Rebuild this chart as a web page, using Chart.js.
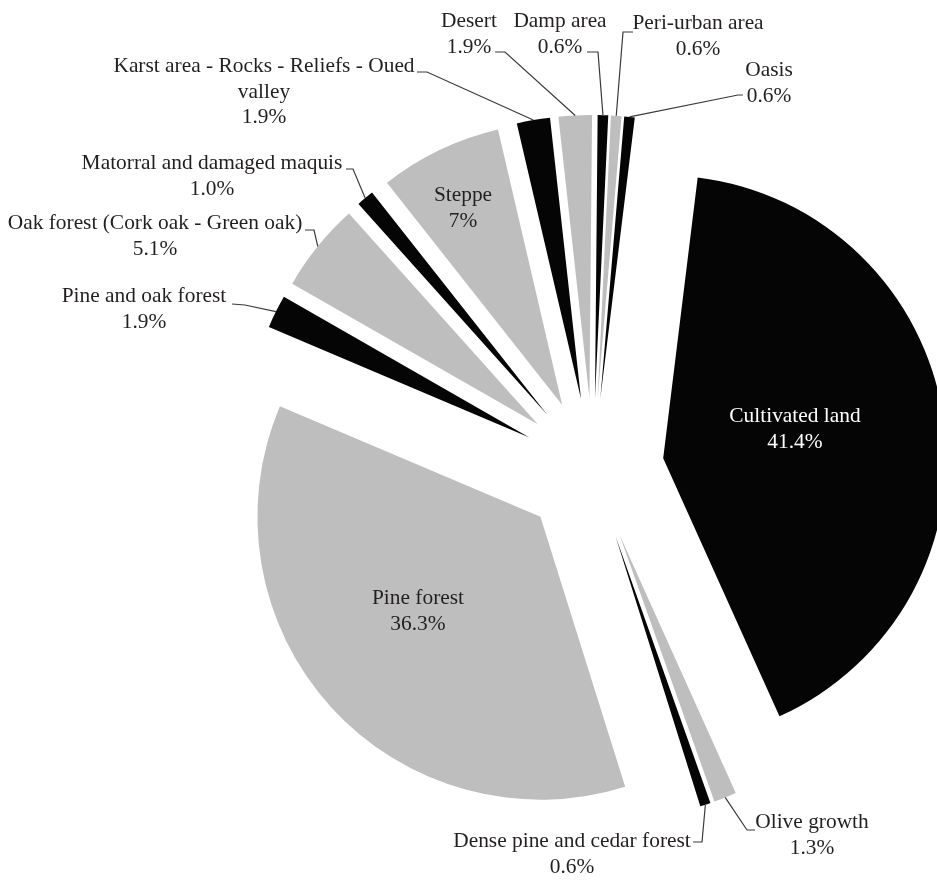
<!DOCTYPE html>
<html>
<head>
<meta charset="utf-8">
<script src="https://cdn.jsdelivr.net/npm/chart.js@4.4.0/dist/chart.umd.min.js"></script>
<style>
  body { margin: 0; background: #fff; }
</style>
</head>
<body>
<canvas id="usoSuelo" width="937" height="880"></canvas>
<script>
// Categorias en el orden del pastel (sentido horario)
var categorias = [
  ["Cultivated land"],
  ["Olive growth"],
  ["Dense pine and cedar forest"],
  ["Pine forest"],
  ["Pine and oak forest"],
  ["Oak forest (Cork oak - Green oak)"],
  ["Matorral and damaged maquis"],
  ["Steppe"],
  ["Karst area - Rocks - Reliefs - Oued", "valley"],
  ["Desert"],
  ["Damp area"],
  ["Peri-urban area"],
  ["Oasis"],
];
var porcentajes = [41.4, 1.3, 0.6, 36.3, 1.9, 5.1, 1.0, 7, 1.9, 1.9, 0.6, 0.6, 0.6];
var textoPorcentajes = ["41.4%", "1.3%", "0.6%", "36.3%", "1.9%", "5.1%", "1.0%", "7%", "1.9%", "1.9%", "0.6%", "0.6%", "0.6%"];

var NEGRO = "#050505";
var GRIS = "#bebebe";
var colores = porcentajes.map(function (v, i) {
  return i % 2 === 0 ? NEGRO : GRIS;
});

var SEPARACION = 71; // cuanto se separa cada porcion del centro
var FUENTE = '21.4px "Liberation Serif", "Times New Roman", serif';

// Posicion de cada etiqueta: centro x, primera linea base y, guia (inicio, codo)
var etiquetas = [
  { x: 795, y: 422, color: "#ffffff" },
  { x: 812, y: 828, guia: [[755, 830], [747, 830]] },
  { x: 572, y: 847, guia: [[693, 842], [702, 842]] },
  { x: 418, y: 604 },
  { x: 144, y: 302, guia: [[232, 304], [245, 305]] },
  { x: 155, y: 229, guia: [[305, 230], [314, 230]] },
  { x: 212, y: 169, guia: [[346, 169], [353, 169]] },
  { x: 463, y: 201 },
  { x: 264, y: 72, guia: [[417, 72], [427, 72]] },
  { x: 469, y: 27, guia: [[495, 52], [505, 52]] },
  { x: 560, y: 27, guia: [[587, 52], [598, 52]] },
  { x: 698, y: 29, guia: [[633, 32], [623, 32]] },
  { x: 769, y: 76, guia: [[743, 95], [738, 95]] },
];

// Dibuja las porciones separadas del centro
var pastelSeparado = {
  id: "pastelSeparado",
  beforeDatasetsDraw: function (chart) {
    var ctx = chart.ctx;
    chart.getDatasetMeta(0).data.forEach(function (arc) {
      var medio = (arc.startAngle + arc.endAngle) / 2;
      ctx.save();
      ctx.translate(Math.cos(medio) * SEPARACION, Math.sin(medio) * SEPARACION);
      arc.draw(ctx);
      ctx.restore();
    });
    return false;
  },
  afterDraw: function (chart) {
    var ctx = chart.ctx;
    ctx.save();
    ctx.font = FUENTE;
    ctx.textAlign = "center";
    ctx.textBaseline = "alphabetic";
    chart.getDatasetMeta(0).data.forEach(function (arc, i) {
      var et = etiquetas[i];
      if (et.guia) {
        var medio = (arc.startAngle + arc.endAngle) / 2;
        var r = arc.outerRadius + SEPARACION;
        ctx.beginPath();
        ctx.strokeStyle = "#3a3a3a";
        ctx.lineWidth = 1.2;
        ctx.moveTo(et.guia[0][0], et.guia[0][1]);
        ctx.lineTo(et.guia[1][0], et.guia[1][1]);
        ctx.lineTo(arc.x + Math.cos(medio) * r, arc.y + Math.sin(medio) * r);
        ctx.stroke();
      }
      var lineas = categorias[i].concat([textoPorcentajes[i]]);
      ctx.fillStyle = et.color || "#231f20";
      lineas.forEach(function (linea, j) {
        ctx.fillText(linea, et.x, et.y + j * 25.5);
      });
    });
    ctx.restore();
  },
};

new Chart(document.getElementById("usoSuelo").getContext("2d"), {
  type: "pie",
  data: {
    labels: categorias,
    datasets: [
      {
        data: porcentajes,
        backgroundColor: colores,
        borderWidth: 0,
      },
    ],
  },
  options: {
    responsive: false,
    animation: false,
    rotation: 7,
    radius: 283,
    layout: { padding: { left: 249, top: 58, right: 0, bottom: 0 } },
    plugins: {
      legend: { display: false },
      tooltip: { enabled: false },
    },
  },
  plugins: [pastelSeparado],
});
</script>
</body>
</html>
